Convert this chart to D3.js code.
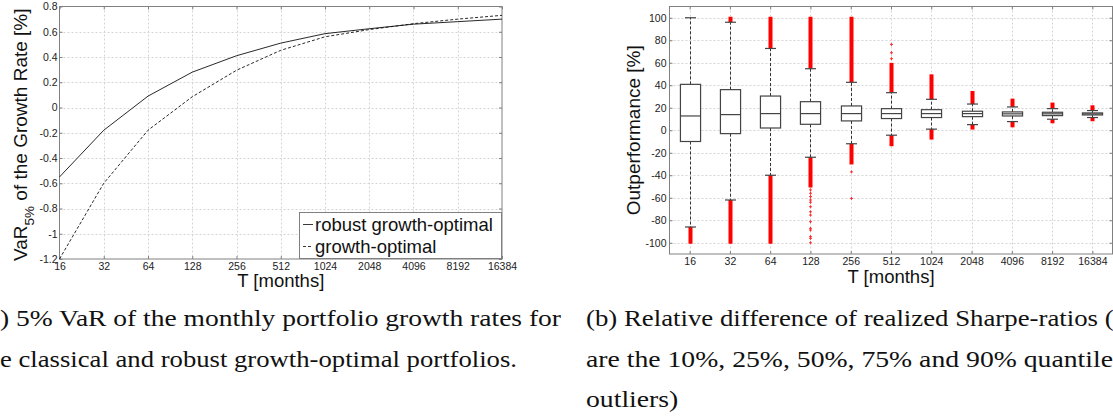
<!DOCTYPE html>
<html><head><meta charset="utf-8">
<script src="https://cdn.jsdelivr.net/npm/d3@7"></script>
<style>body{margin:0;background:#fff;overflow:hidden} svg{display:block}</style>
</head><body>
<svg id="c" width="1113" height="416"></svg>
<script>
// ---------- data ----------
const T = [16, 32, 64, 128, 256, 512, 1024, 2048, 4096, 8192, 16384];
const xTickLabels = ["16","32","64","128","256","512","1024","2048","4096","8192","16384"];
const seriesNames = ["robust growth-optimal", "growth-optimal"];
const varRobust = [-0.55, -0.18, 0.09, 0.28, 0.41, 0.51, 0.585, 0.624, 0.66, 0.68, 0.70];
const varGrowth = [-1.2, -0.60, -0.18, 0.085, 0.295, 0.453, 0.56, 0.617, 0.664, 0.70, 0.73];
const leftYTicks = [-1.2, -1, -0.8, -0.6, -0.4, -0.2, 0, 0.2, 0.4, 0.6, 0.8];
const leftYLabels = ["-1.2","-1","-0.8","-0.6","-0.4","-0.2","0","0.2","0.4","0.6","0.8"];

const q10 = [-86, -62, -40, -24, -12, -4.4, 1, 5, 7.7, 9.8, 11.3];
const q25 = [-10, -3, 2, 5.3, 8.3, 10.4, 11.3, 12.1, 12.7, 13, 13.6];
const q50 = [12.7, 13.9, 14.8, 14.8, 14.8, 14.8, 14.8, 14.8, 14.6, 14.6, 14.5];
const q75 = [40.8, 36.1, 30.4, 25.4, 21.6, 19.2, 18.3, 16.9, 16.3, 16, 15.4];
const q90 = [100, 96, 72.7, 54.7, 42.6, 33.4, 27.5, 23.3, 20.7, 19.2, 17.5];
// dense outlier ranges (upper tail, lower tail); null = none
const outHighTop = [null, 100, 100, 100, 100, 59, 48.8, 34, 27.2, 23.7, 21.3];
const outLowBottom = [-100, -100, -100, -50, -29.5, -13.3, -7.4, 1.5, 3.5, 7.1, 8.9];
const sparseOutliers = [[], [], [], [-53, -56, -59, -62, -64, -68, -72.5, -75.4, -81.3, -87.2, -88.7, -94.6, -96, -100],
  [-37, -60.6], [63.6, 68.9, 76.3], [], [], [], [], []];
const rightYTicks = [-100, -80, -60, -40, -20, 0, 20, 40, 60, 80, 100];
const rightYLabels = ["-100","-80","-60","-40","-20","0","20","40","60","80","100"];

// ---------- setup ----------
const svg = d3.select("#c");
const SANS = "'Liberation Sans', Arial, sans-serif";
const SERIF = "'Liberation Serif', 'Times New Roman', serif";
const GRID = "#d4d4d4", FRAME = "#808080";

// ---------- left chart ----------
const L = {l: 59.5, r: 502, t: 6.5, b: 259};
const xL = d3.scaleLog().base(2).domain([16, 16384]).range([L.l, L.r]);
const yL = d3.scaleLinear().domain([-1.2, 0.8]).range([L.b, L.t]);
const gL = svg.append("g");

gL.selectAll(".gx").data(T.slice(1, -1)).join("line")
  .attr("x1", d => Math.round(xL(d)) + 0.5).attr("x2", d => Math.round(xL(d)) + 0.5)
  .attr("y1", L.t).attr("y2", L.b).attr("stroke", GRID).attr("stroke-dasharray", "2,2");
gL.selectAll(".gy").data(leftYTicks.slice(1, -1)).join("line")
  .attr("y1", d => Math.round(yL(d)) + 0.5).attr("y2", d => Math.round(yL(d)) + 0.5)
  .attr("x1", L.l).attr("x2", L.r).attr("stroke", GRID).attr("stroke-dasharray", "2,2");

function styleAxis(g, showText) {
  g.select(".domain").remove();
  g.selectAll(".tick line").attr("stroke", FRAME);
  g.selectAll("text").style("font-family", SANS).style("font-size", "10.5px").attr("fill", "#222");
  if (!showText) g.selectAll("text").remove();
}
gL.append("g").attr("transform", `translate(0,${L.b})`)
  .call(d3.axisBottom(xL).tickValues(T).tickFormat((d, i) => xTickLabels[i]).tickSize(-3).tickPadding(4))
  .call(g => styleAxis(g, true));
gL.append("g").attr("transform", `translate(0,${L.t})`)
  .call(d3.axisTop(xL).tickValues(T).tickSize(-3)).call(g => styleAxis(g, false));
gL.append("g").attr("transform", `translate(${L.l},0)`)
  .call(d3.axisLeft(yL).tickValues(leftYTicks).tickFormat((d, i) => leftYLabels[i]).tickSize(-3).tickPadding(2))
  .call(g => styleAxis(g, true));
gL.append("g").attr("transform", `translate(${L.r},0)`)
  .call(d3.axisRight(yL).tickValues(leftYTicks).tickSize(-3)).call(g => styleAxis(g, false));
gL.append("rect").attr("x", L.l).attr("y", L.t).attr("width", L.r - L.l).attr("height", L.b - L.t)
  .attr("fill", "none").attr("stroke", FRAME);

const lineL = d3.line().x((d, i) => xL(T[i])).y(d => yL(d));
gL.append("path").datum(varRobust).attr("d", lineL).attr("fill", "none").attr("stroke", "#111").attr("stroke-width", 0.9);
gL.append("path").datum(varGrowth).attr("d", lineL).attr("fill", "none").attr("stroke", "#111").attr("stroke-width", 0.9).attr("stroke-dasharray", "3,2");

// legend
const lg = gL.append("g");
lg.append("rect").attr("x", 299.5).attr("y", 212.5).attr("width", 202).attr("height", 46)
  .attr("fill", "#fff").attr("stroke", FRAME);
seriesNames.forEach((n, i) => {
  const yy = 224.5 + i * 22;
  lg.append("line").attr("x1", 303).attr("x2", 313).attr("y1", yy).attr("y2", yy)
    .attr("stroke", "#222").attr("stroke-width", 0.9).attr("stroke-dasharray", i ? "3,2" : null);
  lg.append("text").attr("x", 315).attr("y", yy + 6.5).style("font-family", SANS).style("font-size", "18.5px")
    .attr("fill", "#111").text(n);
});

// axis labels
svg.append("text").attr("x", (L.l + L.r) / 2).attr("y", 287).attr("text-anchor", "middle")
  .style("font-family", SANS).style("font-size", "18.5px").attr("fill", "#111").text("T [months]");
const yl = svg.append("text").attr("transform", `translate(27,${(L.t + L.b) / 2 + 2}) rotate(-90)`)
  .attr("text-anchor", "middle").style("font-family", SANS).style("font-size", "19px").attr("fill", "#111");
yl.append("tspan").text("VaR");
yl.append("tspan").style("font-size", "13.5px").attr("dy", 7).text("5%");
yl.append("tspan").attr("dy", -7).text(" of the Growth Rate [%]");

// ---------- right chart ----------
const R = {l: 669.5, r: 1112.5, t: 6.5, b: 254};
const xR = d3.scalePoint().domain(T).range([R.l, R.r]).padding(0.5);
const yR = d3.scaleLinear().domain([-110, 110]).range([R.b, R.t]);
const gR = svg.append("g");

gR.selectAll(".gx").data(T).join("line")
  .attr("x1", d => Math.round(xR(d)) + 0.5).attr("x2", d => Math.round(xR(d)) + 0.5)
  .attr("y1", R.t).attr("y2", R.b).attr("stroke", GRID).attr("stroke-dasharray", "2,2");
gR.selectAll(".gy").data(rightYTicks).join("line")
  .attr("y1", d => Math.round(yR(d)) + 0.5).attr("y2", d => Math.round(yR(d)) + 0.5)
  .attr("x1", R.l).attr("x2", R.r).attr("stroke", GRID).attr("stroke-dasharray", "2,2");

gR.append("g").attr("transform", `translate(0,${R.b})`)
  .call(d3.axisBottom(xR).tickFormat((d, i) => xTickLabels[i]).tickSize(-3).tickPadding(4))
  .call(g => styleAxis(g, true));
gR.append("g").attr("transform", `translate(0,${R.t})`)
  .call(d3.axisTop(xR).tickSize(-3)).call(g => styleAxis(g, false));
gR.append("g").attr("transform", `translate(${R.l},0)`)
  .call(d3.axisLeft(yR).tickValues(rightYTicks).tickFormat((d, i) => rightYLabels[i]).tickSize(-3).tickPadding(3))
  .call(g => styleAxis(g, true));
gR.append("g").attr("transform", `translate(${R.r},0)`)
  .call(d3.axisRight(yR).tickValues(rightYTicks).tickSize(-3)).call(g => styleAxis(g, false));
gR.append("rect").attr("x", R.l).attr("y", R.t).attr("width", R.r - R.l).attr("height", R.b - R.t)
  .attr("fill", "none").attr("stroke", FRAME);

const bw = xR.step() * 0.5, cw = 11;
const BOX = "#444";
T.forEach((t, i) => {
  const cx = Math.round(xR(t)) + 0.5;
  const g = gR.append("g");
  if (outHighTop[i] !== null) {
    g.append("rect").attr("x", cx - 2).attr("width", 4).attr("y", yR(outHighTop[i]) - 1)
      .attr("height", yR(q90[i]) - yR(outHighTop[i]) + 1).attr("fill", "#ff0000");
  }
  if (outLowBottom[i] !== null) {
    g.append("rect").attr("x", cx - 2).attr("width", 4).attr("y", yR(q10[i]))
      .attr("height", yR(outLowBottom[i]) - yR(q10[i]) + 1).attr("fill", "#ff0000");
  }
  sparseOutliers[i].forEach(v => {
    const y = yR(v);
    g.append("path").attr("d", `M${cx - 1.5},${y}H${cx + 1.5}M${cx},${y - 1.5}V${y + 1.5}`)
      .attr("stroke", "#ff3030").attr("stroke-width", 1);
  });
  g.append("line").attr("x1", cx).attr("x2", cx).attr("y1", yR(q75[i])).attr("y2", yR(q90[i]))
    .attr("stroke", "#333").attr("stroke-dasharray", "3,2");
  g.append("line").attr("x1", cx).attr("x2", cx).attr("y1", yR(q25[i])).attr("y2", yR(q10[i]))
    .attr("stroke", "#333").attr("stroke-dasharray", "3,2");
  [q90[i], q10[i]].forEach(v => {
    g.append("line").attr("x1", cx - cw / 2).attr("x2", cx + cw / 2).attr("y1", yR(v)).attr("y2", yR(v))
      .attr("stroke", BOX).attr("stroke-width", 1.2);
  });
  g.append("rect").attr("x", cx - bw / 2).attr("width", bw).attr("y", yR(q75[i]))
    .attr("height", yR(q25[i]) - yR(q75[i])).attr("fill", "#fff").attr("stroke", BOX).attr("stroke-width", 1.2);
  g.append("line").attr("x1", cx - bw / 2).attr("x2", cx + bw / 2).attr("y1", yR(q50[i])).attr("y2", yR(q50[i]))
    .attr("stroke", BOX).attr("stroke-width", 1.2);
});

svg.append("text").attr("x", (R.l + R.r) / 2).attr("y", 283).attr("text-anchor", "middle")
  .style("font-family", SANS).style("font-size", "18.5px").attr("fill", "#111").text("T [months]");
svg.append("text").attr("transform", `translate(640,${(R.t + R.b) / 2}) rotate(-90)`)
  .attr("text-anchor", "middle").style("font-family", SANS).style("font-size", "19px").attr("fill", "#111")
  .text("Outperformance [%]");

// ---------- captions ----------
const CAPFS = 23;
function measure(s) {
  const t = svg.append("text").style("font-family", SERIF).style("font-size", CAPFS + "px").text(s);
  const w = t.node().getComputedTextLength(); t.remove(); return w;
}
function capLine(full, x, y, scale) {
  svg.append("text").attr("x", x).attr("y", y).style("font-family", SERIF).style("font-size", CAPFS + "px")
    .attr("fill", "#111").attr("textLength", measure(full) * scale).attr("lengthAdjust", "spacingAndGlyphs")
    .text(full);
}
{
  const l1 = "(a) 5% VaR of the monthly portfolio growth rates for";
  const s1 = 561 / (measure(l1) - measure("(a"));
  capLine(l1, -measure("(a") * s1, 326, s1);
  const l2 = "the classical and robust growth-optimal portfolios.";
  const s2 = 517 / (measure(l2) - measure("th"));
  capLine(l2, -measure("th") * s2, 367, s2);
}
{
  const r1 = "(b) Relative difference of realized Sharpe-ratios (shown";
  const s1 = 512 / measure("(b) Relative difference of realized Sharpe-ratios");
  capLine(r1, 586, 326, s1);
  const r2 = "are the 10%, 25%, 50%, 75% and 90% quantiles and";
  const s2 = 527 / measure("are the 10%, 25%, 50%, 75% and 90% quantile");
  capLine(r2, 586, 367, s2);
  capLine("outliers)", 586, 407, s2);
}
</script>
</body></html>
